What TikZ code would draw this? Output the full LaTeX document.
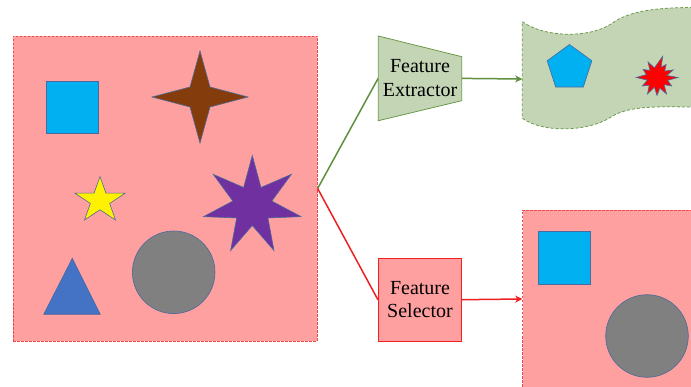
\documentclass[tikz,border=0pt]{standalone}
\usepackage{fontspec}
\setmainfont{Liberation Serif}
\usetikzlibrary{arrows.meta,calc}
\definecolor{pinkfill}{HTML}{FFA0A0}
\definecolor{pinkedge}{HTML}{F04848}
\definecolor{redline}{HTML}{F02020}
\definecolor{greenfill}{HTML}{C4D5B6}
\definecolor{greenedge}{HTML}{6A9A4A}
\definecolor{greenline}{HTML}{5E9040}
\definecolor{shapeedge}{HTML}{4A6A9C}
\definecolor{cyanfill}{HTML}{00B0F0}
\definecolor{brownfill}{HTML}{843C0C}
\definecolor{purplefill}{HTML}{7030A0}
\definecolor{trifill}{HTML}{4472C4}
\definecolor{grayfill}{HTML}{808080}
\begin{document}
\begin{tikzpicture}[x=1pt,y=-1pt,
  panel/.style={draw=pinkedge, fill=pinkfill, line width=0.7pt, dash pattern=on 2.5pt off 1.5pt, inner sep=0pt},
  wavepanel/.style={draw=greenedge, fill=greenfill, line width=0.8pt, dash pattern=on 3pt off 2pt},
  extractorshape/.style={draw=greenedge, fill=greenfill, line width=0.8pt},
  selectorbox/.style={draw=redline, fill=pinkfill, line width=0.8pt, inner sep=0pt},
  labeltext/.style={font=\fontsize{20}{23.7}\selectfont, align=center, inner sep=0pt},
  item/.style={draw=shapeedge, line width=0.6pt},
  greenconn/.style={draw=greenline, line width=1.5pt},
  redconn/.style={draw=redline, line width=1.5pt},
  tip/.style={-{Stealth[length=7pt,width=7pt,inset=2pt]}}
]
\useasboundingbox (0,0) rectangle (691,387);
\clip (0,0) rectangle (691,387);
\fill[white] (0,0) rectangle (691,387);

% input panel
\node[panel, minimum width=304pt, minimum height=305pt] (inbox) at (165.3,188.5) {};
\draw[item, fill=cyanfill] (46,81) rectangle (98,133);
\draw[item, fill=brownfill] (200,51) -- (210,87) -- (248,97) -- (210,107) -- (200,143) -- (190,107) -- (152,97) -- (190,87) -- cycle;
\begin{scope}[shift={(100,200.6)}, xscale=1.1]
  \draw[item, fill=yellow] plot[samples at={0,...,9}, variable=\k] ({\k*36-90}:{24*(1-mod(\k,2)) + 9.2*mod(\k,2)}) -- cycle;
\end{scope}
\begin{scope}[shift={(252.3,205.5)}]
  \draw[item, fill=purplefill] plot[samples at={0,...,13}, variable=\k] ({\k*360/14-90}:{50*(1-mod(\k,2)) + 20*mod(\k,2)}) -- cycle;
\end{scope}
\draw[item, fill=grayfill] (173.7,272.3) circle (41.3);
\draw[item, fill=trifill] (72.3,258.3) -- (100.3,314.3) -- (43.7,314.3) -- cycle;

% feature extractor
\draw[extractorshape] (378.3,36) -- (461.7,56.7) -- (461.7,100.7) -- (378.3,120.7) -- cycle;
\node[labeltext, minimum width=83.4pt, minimum height=84.7pt] (fe) at (420,78.4) {Feature\\Extractor};

% feature selector
\node[selectorbox, labeltext, minimum width=83.4pt, minimum height=82.7pt] (fs) at (420,299.7) {Feature\\Selector};

% extracted features (wave)
\draw[wavepanel] (522.3,21.7) .. controls (545,38) and (590,38) .. (611,24)
  .. controls (630,10) and (660,6) .. (720,8) -- (720,108)
  .. controls (660,106) and (630,105) .. (611,117)
  .. controls (590,131) and (545,134) .. (522.3,118.3) -- cycle;
\coordinate (wv) at (522.3,79);
\begin{scope}[shift={(569.5,68)}]
  \draw[item, fill=cyanfill] (-90:23.5) -- (-18:23.5) -- (54:23.5) -- (126:23.5) -- (198:23.5) -- cycle;
\end{scope}
\begin{scope}[shift={(657,77.5)}]
  \draw[item, fill=red] (0:21) -- (15:11) -- (30:17) -- (45:10) -- (60:19) -- (75:11) -- (90:18) -- (105:10) -- (120:19) -- (135:11) -- (150:17) -- (165:10)
   -- (180:21) -- (195:11) -- (210:16) -- (225:10) -- (240:18) -- (255:10) -- (285:22) -- (292:11) -- (305:16) -- (320:10) -- (335:18) -- (348:10) -- cycle;
\end{scope}

% selected features
\node[panel, minimum width=178pt, minimum height=178pt, anchor=west] (outbox) at (522.3,299) {};
\draw[item, fill=cyanfill] (538.3,231.7) rectangle (590.7,284);
\draw[item, fill=grayfill] (647,336) circle (41.3);

% connectors
\draw[greenconn] (inbox.east) -- (fe.west);
\draw[greenconn, tip] (fe.east) -- (wv);
\draw[redconn] (inbox.east) -- (fs.west);
\draw[redconn, tip] (fs.east) -- (outbox.west);
\end{tikzpicture}
\end{document}
